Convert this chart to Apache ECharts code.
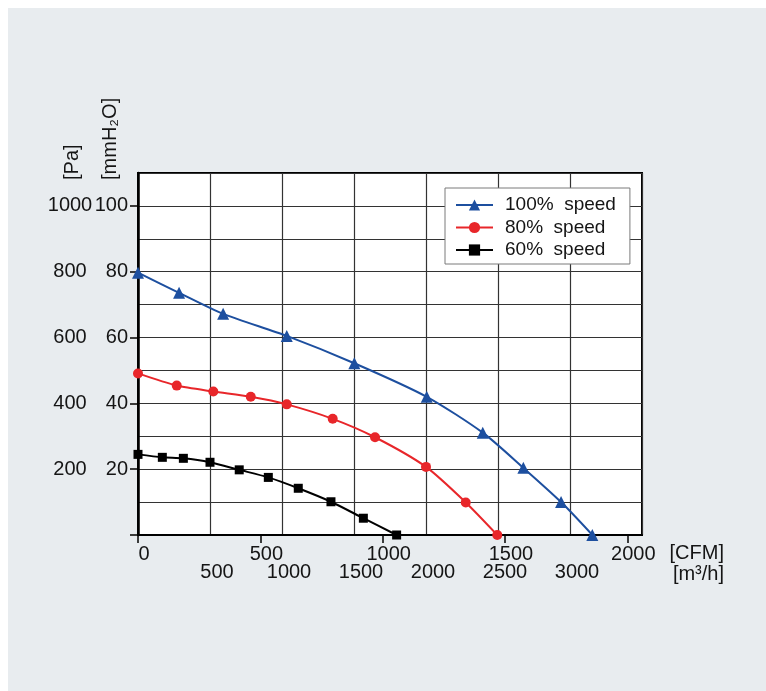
<!DOCTYPE html>
<html>
<head>
<meta charset="utf-8">
<script src="https://cdn.jsdelivr.net/npm/echarts@6/dist/echarts.min.js"></script>
<style>
html,body{margin:0;padding:0;background:#fff;}
#bg{position:absolute;left:8px;top:8px;width:758px;height:683px;background:#e8ecef;}
#main{position:absolute;left:0;top:0;width:766px;height:691px;}
</style>
</head>
<body>
<div id="bg"></div>
<div id="main"></div>
<script>
// Airflow in m3/h, pressure in mmH2O
const flow100 = [0, 285, 591, 1033, 1502, 2005, 2394, 2676, 2938, 3155];
const pres100 = [79.7, 73.6, 67.2, 60.5, 52.2, 42.0, 31.1, 20.4, 10.0, 0];
const flow80 = [0, 269, 523, 783, 1033, 1352, 1646, 2000, 2276, 2495];
const pres80 = [49.1, 45.4, 43.6, 42.0, 39.7, 35.3, 29.7, 20.7, 9.9, 0];
const flow60 = [0, 169, 315, 500, 703, 905, 1113, 1340, 1565, 1796];
const pres60 = [24.5, 23.6, 23.3, 22.1, 19.8, 17.5, 14.2, 10.1, 5.1, 0];
const seriesNames = ['100%  speed', '80%  speed', '60%  speed'];
const cfmTicks = [0, 500, 1000, 1500, 2000];
const mmTicks = [0, 20, 40, 60, 80, 100];
const mmLabels = [20, 40, 60, 80, 100];
const M3H_PER_CFM = 1.699;

function pairs(xs, ys) { return xs.map((x, i) => [x, ys[i]]); }

const chart = echarts.init(document.getElementById('main'));
const txt = '#151515';
const FONT = 'Liberation Sans, Arial, sans-serif';

const option = {
  animation: false,
  grid: { left: 138, top: 173, width: 504, height: 362, show: true, backgroundColor: '#fff', borderColor: '#000', borderWidth: 2 },
  legend: {
    orient: 'vertical', left: 445, top: 188,
    backgroundColor: '#fff', borderColor: '#7a7a7a', borderWidth: 1,
    padding: [6, 14, 3, 10],
    itemWidth: 37, itemHeight: 14, itemGap: 0.5,
    textStyle: { fontSize: 19, color: txt, fontFamily: FONT, lineHeight: 22, padding: [0, 0, 0, 7] },
    data: seriesNames
  },
  xAxis: [
    {
      type: 'value', min: 0, max: 3500, interval: 500, position: 'bottom',
      axisLine: { show: true, onZero: false, lineStyle: { color: '#000', width: 2 } },
      axisTick: { show: false },
      splitLine: { show: true, lineStyle: { color: '#333', width: 1.2 } },
      axisLabel: {
        margin: 27, fontSize: 20, color: txt, fontFamily: FONT, padding: [0, 0, 0, 14],
        formatter: v => (v === 0 || v === 3500) ? '' : String(v)
      }
    },
    {
      type: 'value', min: 0, max: 3500 / M3H_PER_CFM, position: 'bottom',
      axisLine: { show: false },
      axisTick: { show: true, customValues: cfmTicks, length: 8, lineStyle: { color: '#000', width: 1.5 } },
      splitLine: { show: false },
      axisLabel: { customValues: cfmTicks, margin: 9, fontSize: 20, color: txt, fontFamily: FONT, padding: [0, 0, 0, 12], formatter: v => String(Math.round(v)) }
    }
  ],
  yAxis: [
    {
      type: 'value', min: 0, max: 110, interval: 10, position: 'left',
      axisLine: { show: true, onZero: false, lineStyle: { color: '#000', width: 2.5 } },
      axisTick: { show: false },
      axisLabel: { show: false },
      splitLine: { show: true, lineStyle: { color: '#333', width: 1.2 } }
    },
    {
      type: 'value', min: 0, max: 110, position: 'left',
      axisLine: { show: false },
      axisTick: { show: true, customValues: mmTicks, length: 8, lineStyle: { color: '#000', width: 1.5 } },
      axisLabel: { customValues: mmLabels, margin: 10, fontSize: 20, color: txt, fontFamily: FONT, padding: [0, 0, 3, 0], formatter: v => String(Math.round(v)) },
      splitLine: { show: false }
    },
    {
      type: 'value', min: 0, max: 110, position: 'left', offset: 58,
      axisLine: { show: false },
      axisTick: { show: false },
      axisLabel: { customValues: mmLabels, margin: 10, align: 'center', fontSize: 20, color: txt, fontFamily: FONT, padding: [0, 0, 3, 0], formatter: v => String(Math.round(v * 10)) },
      splitLine: { show: false }
    }
  ],
  series: [
    {
      name: seriesNames[0], type: 'line', xAxisIndex: 0, yAxisIndex: 0,
      data: pairs(flow100, pres100), smooth: 0.25,
      symbol: 'triangle', symbolSize: 12,
      lineStyle: { color: '#1d4f9f', width: 2 }, itemStyle: { color: '#1d4f9f' }
    },
    {
      name: seriesNames[1], type: 'line', xAxisIndex: 0, yAxisIndex: 0,
      data: pairs(flow80, pres80), smooth: 0.25,
      symbol: 'circle', symbolSize: 10,
      lineStyle: { color: '#e8262a', width: 2 }, itemStyle: { color: '#e8262a' }
    },
    {
      name: seriesNames[2], type: 'line', xAxisIndex: 0, yAxisIndex: 0,
      data: pairs(flow60, pres60), smooth: 0.25,
      symbol: 'rect', symbolSize: 9,
      lineStyle: { color: '#000', width: 2 }, itemStyle: { color: '#000' }
    }
  ],
  graphic: [
    { type: 'text', x: 72, y: 180, rotation: Math.PI / 2, style: { text: '[Pa]', fill: txt, fontSize: 20, fontFamily: FONT, align: 'left', verticalAlign: 'middle' } },
    { type: 'text', x: 110, y: 180, rotation: Math.PI / 2, style: { text: '[mmH\u2082O]', fill: txt, fontSize: 20, fontFamily: FONT, align: 'left', verticalAlign: 'middle' } },
    { type: 'text', x: 724, y: 553, style: { text: '[CFM]', fill: txt, fontSize: 20, fontFamily: FONT, align: 'right', verticalAlign: 'middle' } },
    { type: 'text', x: 724, y: 574, style: { text: '[m\u00b3/h]', fill: txt, fontSize: 20, fontFamily: FONT, align: 'right', verticalAlign: 'middle' } }
  ]
};
chart.setOption(option);
</script>
</body>
</html>
